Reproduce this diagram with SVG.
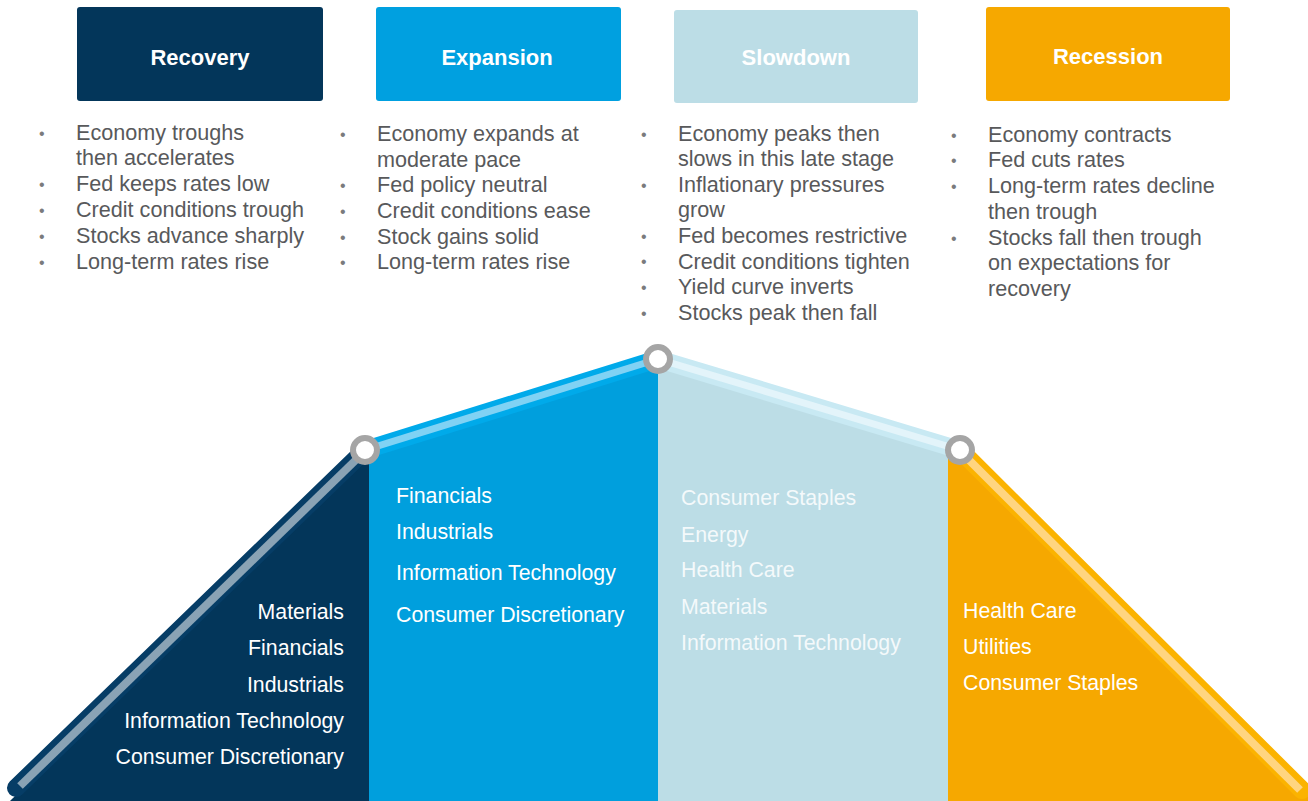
<svg xmlns="http://www.w3.org/2000/svg" width="1308" height="801" viewBox="0 0 1308 801">
<style>
.hd{font-family:"Liberation Sans",Arial,sans-serif;font-weight:bold;font-size:22px;fill:#fff;text-anchor:middle}
.bl{font-family:"Liberation Sans",Arial,sans-serif;font-size:21.6px;fill:#58595b}
.dot{font-family:"Liberation Sans",Arial,sans-serif;font-size:16px;fill:#7a7b7d}
.sc{font-family:"Liberation Sans",Arial,sans-serif;font-size:21.3px;fill:#fff}
.node{fill:#fff;stroke:#a5a5a5;stroke-width:6}
</style>
<rect width="1308" height="801" fill="#fff"/>

<g id="mountain">
  <polygon points="10,801 365,452 369,452 369,801" fill="#03365a"/>
  <polygon points="369,452 658,362 658,801 369,801" fill="#009fdd"/>
  <polygon points="658,362 948,452 948,801 658,801" fill="#bcdde6"/>
  <polygon points="948,452 960,452 1308,795 1308,801 948,801" fill="#f6a800"/>
</g>

<g id="connectors" stroke-linecap="round" fill="none">
  <line x1="16" y1="788" x2="365" y2="450" stroke="#063d66" stroke-width="18"/>
  <line x1="20" y1="786" x2="362" y2="454" stroke="#8aa3b5" stroke-width="8" stroke-linecap="butt"/>
  <line x1="365" y1="450" x2="658" y2="359" stroke="#00aaea" stroke-width="18" stroke-linecap="butt"/>
  <line x1="365" y1="450" x2="658" y2="359" stroke="#80d2f4" stroke-width="7" stroke-linecap="butt"/>
  <line x1="658" y1="359" x2="960" y2="450" stroke="#c8e9f3" stroke-width="18" stroke-linecap="butt"/>
  <line x1="658" y1="359" x2="960" y2="450" stroke="#e3f4fa" stroke-width="7" stroke-linecap="butt"/>
  <line x1="960" y1="450" x2="1302" y2="790" stroke="#fbb300" stroke-width="18"/>
  <line x1="963" y1="454" x2="1300" y2="790" stroke="#ffd580" stroke-width="8" stroke-linecap="butt"/>
</g>

<g id="node-c1"><circle class="node" cx="365" cy="450" r="12"/></g>
<g id="node-c2"><circle class="node" cx="658" cy="359" r="12"/></g>
<g id="node-c3"><circle class="node" cx="960" cy="450" r="12"/></g>

<g id="recovery">
  <rect x="77" y="7" width="246" height="94" rx="3" fill="#03365a"/>
  <text class="hd" x="200" y="65">Recovery</text>
  <g class="dot"><text x="39" y="139">•</text><text x="39" y="190">•</text><text x="39" y="216">•</text><text x="39" y="242">•</text><text x="39" y="268">•</text></g>
  <text class="bl" x="76" y="140">Economy troughs</text>
  <text class="bl" x="76" y="165">then accelerates</text>
  <text class="bl" x="76" y="191">Fed keeps rates low</text>
  <text class="bl" x="76" y="217">Credit conditions trough</text>
  <text class="bl" x="76" y="243">Stocks advance sharply</text>
  <text class="bl" x="76" y="269">Long-term rates rise</text>
  <g class="sc" text-anchor="end">
    <text x="344" y="619">Materials</text>
    <text x="344" y="655">Financials</text>
    <text x="344" y="692">Industrials</text>
    <text x="344" y="728">Information Technology</text>
    <text x="344" y="764">Consumer Discretionary</text>
  </g>
</g>

<g id="expansion">
  <rect x="376" y="7" width="245" height="94" rx="3" fill="#00a0e0"/>
  <text class="hd" x="497" y="65">Expansion</text>
  <g class="dot"><text x="340" y="140">•</text><text x="340" y="191">•</text><text x="340" y="217">•</text><text x="340" y="243">•</text><text x="340" y="268">•</text></g>
  <text class="bl" x="377" y="141">Economy expands at</text>
  <text class="bl" x="377" y="167">moderate pace</text>
  <text class="bl" x="377" y="192">Fed policy neutral</text>
  <text class="bl" x="377" y="218">Credit conditions ease</text>
  <text class="bl" x="377" y="244">Stock gains solid</text>
  <text class="bl" x="377" y="269">Long-term rates rise</text>
  <g class="sc">
    <text x="396" y="503">Financials</text>
    <text x="396" y="539">Industrials</text>
    <text x="396" y="580">Information Technology</text>
    <text x="396" y="622">Consumer Discretionary</text>
  </g>
</g>

<g id="slowdown">
  <rect x="674" y="10" width="244" height="93" rx="3" fill="#bcdde6"/>
  <text class="hd" x="796" y="65">Slowdown</text>
  <g class="dot"><text x="641" y="140">•</text><text x="641" y="191">•</text><text x="641" y="242">•</text><text x="641" y="267">•</text><text x="641" y="293">•</text><text x="641" y="319">•</text></g>
  <text class="bl" x="678" y="141">Economy peaks then</text>
  <text class="bl" x="678" y="166">slows in this late stage</text>
  <text class="bl" x="678" y="192">Inflationary pressures</text>
  <text class="bl" x="678" y="217">grow</text>
  <text class="bl" x="678" y="243">Fed becomes restrictive</text>
  <text class="bl" x="678" y="269">Credit conditions tighten</text>
  <text class="bl" x="678" y="294">Yield curve inverts</text>
  <text class="bl" x="678" y="320">Stocks peak then fall</text>
  <g class="sc" fill-opacity="0.85">
    <text x="681" y="505">Consumer Staples</text>
    <text x="681" y="542">Energy</text>
    <text x="681" y="577">Health Care</text>
    <text x="681" y="614">Materials</text>
    <text x="681" y="650">Information Technology</text>
  </g>
</g>

<g id="recession">
  <rect x="986" y="7" width="244" height="94" rx="3" fill="#f6a800"/>
  <text class="hd" x="1108" y="64">Recession</text>
  <g class="dot"><text x="951" y="141">•</text><text x="951" y="166">•</text><text x="951" y="192">•</text><text x="951" y="244">•</text></g>
  <text class="bl" x="988" y="142">Economy contracts</text>
  <text class="bl" x="988" y="167">Fed cuts rates</text>
  <text class="bl" x="988" y="193">Long-term rates decline</text>
  <text class="bl" x="988" y="219">then trough</text>
  <text class="bl" x="988" y="245">Stocks fall then trough</text>
  <text class="bl" x="988" y="270">on expectations for</text>
  <text class="bl" x="988" y="296">recovery</text>
  <g class="sc">
    <text x="963" y="618">Health Care</text>
    <text x="963" y="654">Utilities</text>
    <text x="963" y="690">Consumer Staples</text>
  </g>
</g>
</svg>
